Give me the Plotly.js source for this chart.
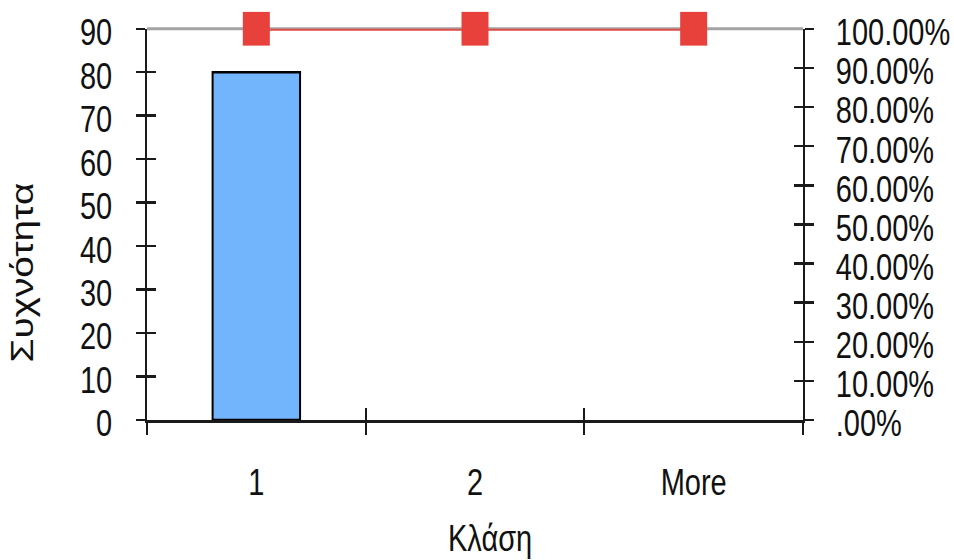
<!DOCTYPE html>
<html>
<head>
<meta charset="utf-8">
<script src="https://cdn.plot.ly/plotly-3.0.1.min.js"></script>
<style>
  html, body { margin: 0; padding: 0; background: #ffffff; overflow: hidden; }
  #wrap { width: 954px; height: 560px; overflow: hidden; }
  /* the chart is laid out at 448px and stretched vertically to fill 560px */
  #chart { width: 954px; height: 448px; transform: scaleY(1.25); transform-origin: 0 0; }
</style>
</head>
<body>
<div id="wrap"><div id="chart"></div></div>
<script>
// Histogram bins, frequencies and cumulative percentage
const categories = ['1', '2', 'More'];
const frequency = [80, 0, 0];
const cumulativePct = [1, 1, 1];

// Axis ticks
const freqTicks = [0, 10, 20, 30, 40, 50, 60, 70, 80, 90];
const pctTicks = [0, 0.1, 0.2, 0.3, 0.4, 0.5, 0.6, 0.7, 0.8, 0.9, 1.0];
const pctLabels = ['.00%', '10.00%', '20.00%', '30.00%', '40.00%', '50.00%',
                   '60.00%', '70.00%', '80.00%', '90.00%', '100.00%'];

// Axis titles
const xTitle = 'Κλάση';
const yTitle = 'Συχνότητα';

const AXIS = '#1a1a1a';
const TEXT = '#111111';
const FONT = 'Liberation Sans, Arial, sans-serif';

// boundaries between category slots, for the crossing ticks
const bounds = categories.map((_, i) => i - 0.5).concat([categories.length - 0.5]);

const bar = {
  type: 'bar',
  x: categories,
  y: frequency,
  xaxis: 'x', yaxis: 'y',
  marker: {
    color: '#72b5fd',
    line: { color: '#000000', width: frequency.map(v => (v > 0 ? 2 : 0)) }
  },
  hoverinfo: 'x+y'
};

const cumulative = {
  type: 'scatter',
  mode: 'lines+markers',
  x: categories,
  y: cumulativePct,
  xaxis: 'x', yaxis: 'y2',
  cliponaxis: false,
  line: { color: '#e0504b', width: 3 },
  marker: { symbol: 'square', size: 27, color: '#e8413c', line: { width: 0 } }
};

// empty traces so the inner tick sets (drawn on overlay axes) are rendered
const innerTicksLeft = { type: 'scatter', x: [], y: [], xaxis: 'x2', yaxis: 'y3', hoverinfo: 'skip' };
const innerTicksRight = { type: 'scatter', x: [], y: [], xaxis: 'x2', yaxis: 'y4', hoverinfo: 'skip' };

const baseAxis = {
  showgrid: false, zeroline: false, fixedrange: true, automargin: false
};

const layout = {
  width: 954, height: 448,
  margin: { l: 147, r: 151, t: 23, b: 112 },
  paper_bgcolor: '#ffffff',
  plot_bgcolor: '#ffffff',
  font: { family: FONT, size: 29, color: TEXT },
  showlegend: false,
  bargap: 0.6,
  xaxis: Object.assign({}, baseAxis, {
    type: 'category',
    categoryorder: 'array', categoryarray: categories,
    range: [-0.5, categories.length - 0.5],
    tickson: 'boundaries',
    ticks: 'outside', ticklen: 10, tickwidth: 2, tickcolor: AXIS,
    showline: true, linecolor: AXIS, linewidth: 2,
    ticklabelstandoff: 23
  }),
  xaxis2: Object.assign({}, baseAxis, {
    overlaying: 'x', anchor: 'y', side: 'bottom',
    range: [-0.5, categories.length - 0.5],
    tickmode: 'array', tickvals: bounds,
    ticks: 'inside', ticklen: 10, tickwidth: 2, tickcolor: AXIS,
    showticklabels: false, showline: false
  }),
  yaxis: Object.assign({}, baseAxis, {
    range: [0, 90],
    tickmode: 'array', tickvals: freqTicks,
    ticks: 'outside', ticklen: 9, tickwidth: 2, tickcolor: AXIS,
    showline: true, linecolor: AXIS, linewidth: 2,
    ticklabelstandoff: 18, ticklabelshift: 3
  }),
  yaxis2: Object.assign({}, baseAxis, {
    overlaying: 'y', side: 'right', anchor: 'x',
    range: [0, 1],
    tickmode: 'array', tickvals: pctTicks, ticktext: pctLabels,
    ticks: 'outside', ticklen: 9, tickwidth: 2, tickcolor: AXIS,
    showline: true, linecolor: AXIS, linewidth: 2,
    ticklabelstandoff: 16, ticklabelshift: 3
  }),
  yaxis3: Object.assign({}, baseAxis, {
    overlaying: 'y', side: 'left', anchor: 'x',
    range: [0, 90],
    tickmode: 'array', tickvals: freqTicks,
    ticks: 'inside', ticklen: 9, tickwidth: 2, tickcolor: AXIS,
    showticklabels: false, showline: false
  }),
  yaxis4: Object.assign({}, baseAxis, {
    overlaying: 'y', side: 'right', anchor: 'x',
    range: [0, 1],
    tickmode: 'array', tickvals: pctTicks,
    ticks: 'inside', ticklen: 9, tickwidth: 2, tickcolor: AXIS,
    showticklabels: false, showline: false
  }),
  annotations: [
    { text: xTitle, xref: 'paper', yref: 'paper', x: 0.523, y: -0.305,
      xanchor: 'center', yanchor: 'middle', showarrow: false,
      font: { family: FONT, size: 29, color: TEXT } },
    { text: yTitle, xref: 'paper', yref: 'paper', x: -0.19, y: 0.378,
      xanchor: 'center', yanchor: 'middle', showarrow: false, textangle: -90,
      font: { family: FONT, size: 31, color: TEXT } }
  ],
  shapes: [
    // grey top border of the plot area
    { type: 'line', xref: 'paper', yref: 'paper', x0: 0, x1: 1, y0: 1, y1: 1,
      line: { color: '#a3a3a3', width: 2.5 }, layer: 'below' }
  ]
};

Plotly.newPlot('chart', [bar, innerTicksLeft, innerTicksRight, cumulative], layout,
  { displayModeBar: false, staticPlot: true });
</script>
</body>
</html>
